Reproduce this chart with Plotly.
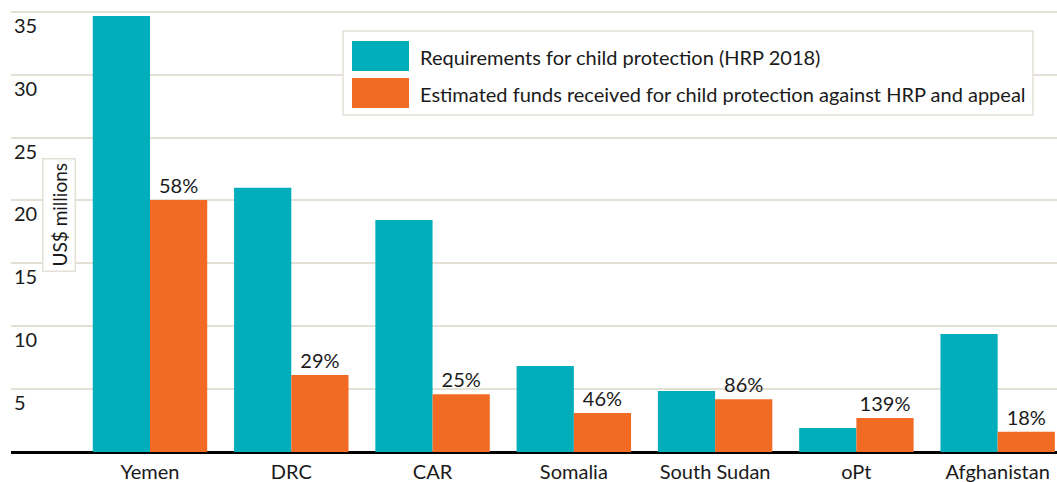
import plotly.graph_objects as go

countries = ["Yemen", "DRC", "CAR", "Somalia", "South Sudan", "oPt", "Afghanistan"]
requirements = [34.66, 21.0, 18.44, 6.84, 4.85, 1.9, 9.38]
funds_received = [20.03, 6.12, 4.6, 3.1, 4.2, 2.7, 1.6]
pct_labels = ["58%", "29%", "25%", "46%", "86%", "139%", "18%"]
y_ticks = [5, 10, 15, 20, 25, 30, 35]

name_req = "Requirements for child protection (HRP 2018)"
name_funds = "Estimated funds received for child protection against HRP and appeal"

TEAL = "#00adbb"
ORANGE = "#f26b25"
GRID = "#e4e0d5"
FONT = "Lato"
TXT = "#1a1a1a"
FS = 20

W, H = 1057, 482
ML, MR, MT, MB = 11, 0, 0, 30
PW, PH = W - ML - MR, H - MT - MB


def px(x):
    return (x - ML) / PW


def py(y):
    return (H - MB - y) / PH


fig = go.Figure()
fig.add_trace(go.Bar(x=countries, y=requirements, name=name_req,
                     marker=dict(color=TEAL, line=dict(width=0))))
fig.add_trace(go.Bar(x=countries, y=funds_received, name=name_funds,
                     marker=dict(color=ORANGE, line=dict(width=0)),
                     text=pct_labels, textposition="outside", cliponaxis=False,
                     textfont=dict(family=FONT, size=FS, color=TXT)))

# custom legend (box, swatches, labels)
shapes = [
    dict(type="rect", xref="paper", yref="paper", x0=px(343), x1=px(1033), y0=py(115), y1=py(31),
         fillcolor="white", line=dict(color=GRID, width=1.5), layer="above"),
    dict(type="rect", xref="paper", yref="paper", x0=px(352), x1=px(409), y0=py(71), y1=py(41),
         fillcolor=TEAL, line=dict(width=0), layer="above"),
    dict(type="rect", xref="paper", yref="paper", x0=px(352), x1=px(409), y0=py(108), y1=py(78),
         fillcolor=ORANGE, line=dict(width=0), layer="above"),
]
annotations = [
    dict(text=name_req, xref="paper", yref="paper", x=px(418), y=py(57), xanchor="left",
         yanchor="middle", showarrow=False, font=dict(family=FONT, size=FS, color=TXT)),
    dict(text=name_funds, xref="paper", yref="paper", x=px(418), y=py(94), xanchor="left",
         yanchor="middle", showarrow=False, font=dict(family=FONT, size=FS, color=TXT)),
    dict(text="US$ millions", xref="paper", yref="paper", x=px(59), y=py(215), xanchor="center",
         yanchor="middle", showarrow=False, textangle=-90, bgcolor="white",
         bordercolor=GRID, borderwidth=1.5, borderpad=4,
         font=dict(family=FONT, size=19, color=TXT)),
]

fig.update_layout(
    width=W, height=H,
    margin=dict(l=ML, r=MR, t=MT, b=MB, autoexpand=False),
    paper_bgcolor="white", plot_bgcolor="white",
    barmode="group", bargap=0.19, bargroupgap=0,
    showlegend=False,
    font=dict(family=FONT, size=FS, color=TXT),
    shapes=shapes, annotations=annotations,
    xaxis=dict(range=[-0.984, 6.42], showgrid=False, ticks="", showline=False,
               ticklabelstandoff=6, automargin=False,
               tickfont=dict(family=FONT, size=FS, color=TXT), fixedrange=True),
    yaxis=dict(range=[0, 35.93], tickvals=y_ticks, ticktext=[str(v) for v in y_ticks],
               ticklabelposition="inside bottom", showgrid=True, gridcolor=GRID, gridwidth=1.5,
               zeroline=True, zerolinecolor="black", zerolinewidth=3, showline=False, ticks="",
               automargin=False,
               tickfont=dict(family=FONT, size=FS, color=TXT)),
)

fig.write_html("out.html", config={"displayModeBar": False},
               post_script="document.body.style.margin='0px';")
